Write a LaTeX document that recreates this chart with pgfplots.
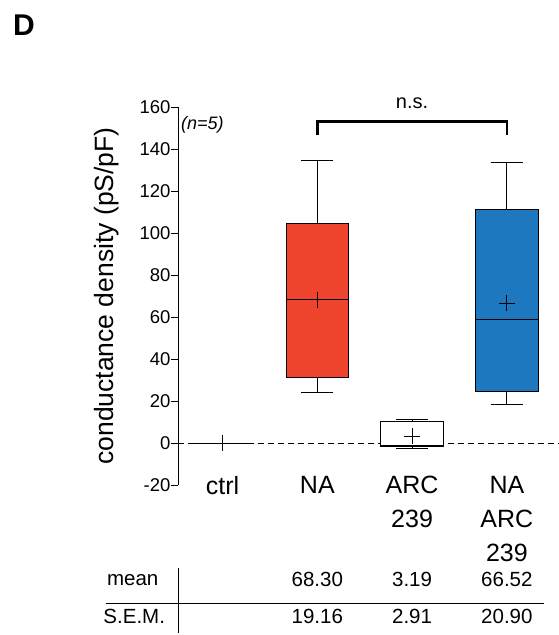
\documentclass[border=0pt]{standalone}
\usepackage{fontspec}
\setmainfont{Liberation Sans}
\usepackage{pgfplots}
\pgfplotsset{compat=1.18}
\usepgfplotslibrary{statistics}

\definecolor{nared}{HTML}{EE432D}
\definecolor{arcblue}{HTML}{1E78C0}

\begin{document}
\begin{tikzpicture}
\useasboundingbox (-178pt,-150pt) rectangle (381pt,485pt);
\begin{axis}[
    scale only axis,
    width=381pt, height=378pt,
    xmin=0.53, xmax=4.55,
    ymin=-20, ymax=160,
    axis lines*=left,
    x axis line style={draw=none},
    xtick={1,2,3,4},
    xticklabels={ctrl,NA,ARC\\239,NA\\ARC\\239},
    xtick style={draw=none},
    xticklabel style={align=center, anchor=north, yshift=19pt,
        font=\fontsize{25}{34}\selectfont},
    ytick={-20,0,...,160},
    ytick style={black, line width=0.9pt},
    tick align=outside,
    major tick length=7pt,
    yticklabel style={font=\fontsize{18.5}{20}\selectfont, xshift=3pt},
    /pgf/number format/assume math mode=true,
    ylabel={conductance density (pS/pF)},
    ylabel style={at={(axis description cs:0,0.5)}, anchor=center,
        yshift=71pt, font=\fontsize{26.5}{30}\selectfont},
    axis line style={line width=0.9pt},
    clip=false,
    boxplot/draw direction=y,
    boxplot/box extend=0.66,
    boxplot/whisker extend=0.34,
]
% zero reference line
\addplot[black, line width=0.8pt, dash pattern=on 6pt off 4pt]
    coordinates {(0.53,0)(4.55,0)};

% ctrl
\addplot[black, line width=1pt, fill=white,
    boxplot prepared={draw position=1, median=0, upper quartile=0,
        lower quartile=0, upper whisker=0, lower whisker=0}]
    coordinates {};
% NA
\addplot[black, line width=1pt, fill=nared,
    boxplot prepared={draw position=2, median=68.4, upper quartile=104.6,
        lower quartile=31.3, upper whisker=134.4, lower whisker=24}]
    coordinates {};
% ARC 239
\addplot[black, line width=1pt, fill=white,
    boxplot prepared={draw position=3, median=-1.0, upper quartile=10.1,
        lower quartile=-1.8, upper whisker=11.4, lower whisker=-2.4}]
    coordinates {};
% NA + ARC 239
\addplot[black, line width=1pt, fill=arcblue,
    boxplot prepared={draw position=4, median=59, upper quartile=111.4,
        lower quartile=24.4, upper whisker=133.5, lower whisker=18.4}]
    coordinates {};

% means
\addplot[only marks, mark=+, mark size=8pt, black, line width=0.9pt]
    coordinates {(1,0)(2,68.30)(3,3.19)(4,66.52)};

% significance bracket
\draw[line width=2.4pt] (axis cs:2,146.7) -- (axis cs:2,153) -- (axis cs:4,153) -- (axis cs:4,146.7);
\node[font=\fontsize{20}{22}\selectfont] at (axis cs:3,162) {n.s.};
\node[anchor=west, inner sep=1pt, font=\fontsize{18}{20}\selectfont\itshape] at (axis cs:0.55,151.7) {(n=5)};

% summary table
\node[anchor=east, font=\fontsize{20.5}{22}\selectfont] at (axis cs:0.36,-65.2) {mean};
\node[anchor=east, font=\fontsize{20.5}{22}\selectfont] at (axis cs:0.43,-82.4) {S.E.M.};
\node[font=\fontsize{20.5}{22}\selectfont] at (axis cs:2,-65.2) {68.30};
\node[font=\fontsize{20.5}{22}\selectfont] at (axis cs:3,-65.2) {3.19};
\node[font=\fontsize{20.5}{22}\selectfont] at (axis cs:4,-65.2) {66.52};
\node[font=\fontsize{20.5}{22}\selectfont] at (axis cs:2,-82.4) {19.16};
\node[font=\fontsize{20.5}{22}\selectfont] at (axis cs:3,-82.4) {2.91};
\node[font=\fontsize{20.5}{22}\selectfont] at (axis cs:4,-82.4) {20.90};
\draw[line width=0.9pt] (axis cs:-0.225,-76.2) -- (axis cs:4.39,-76.2);
\draw[line width=0.9pt] (axis cs:0.53,-59.5) -- (axis cs:0.53,-90.5);
\end{axis}
\node[font=\fontsize{30}{32}\selectfont\bfseries] at (-154pt,460pt) {D};
\end{tikzpicture}
\end{document}
